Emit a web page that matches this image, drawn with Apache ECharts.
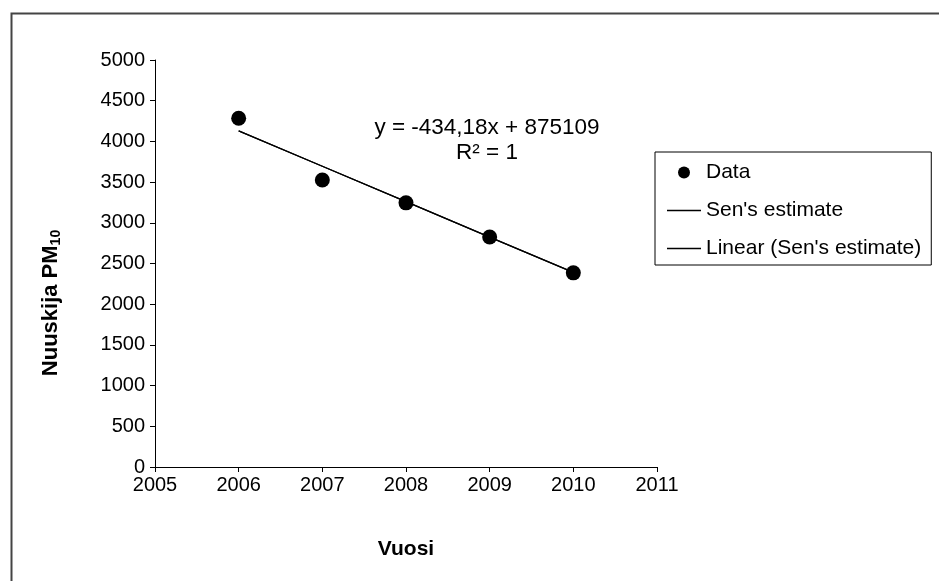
<!DOCTYPE html>
<html>
<head>
<meta charset="utf-8">
<script src="https://cdn.jsdelivr.net/npm/echarts@6/dist/echarts.min.js"></script>
<style>html,body{margin:0;padding:0;background:#fff;}#c{width:939px;height:581px;}</style>
</head>
<body>
<div id="c"></div>
<script>
const years = [2006, 2007, 2008, 2009, 2010];
const dataValues = [4285, 3525, 3245, 2825, 2385];
const senValues = [4130, 3695, 3260, 2825, 2390];
const trendValues = [4130, 3695, 3260, 2825, 2390];
const equationText = 'y = -434,18x + 875109';
const r2Text = 'R² = 1';
const xTitle = 'Vuosi';
const yTitleMain = 'Nuuskija PM';
const yTitleSub = '10';

const pair = (xs, ys) => xs.map((x, i) => [x, ys[i]]);
const font = '"Liberation Sans", Arial, sans-serif';
const lineIcon = 'path://M0,5.3 H34 V6.7 H0 Z M0,0 H0.001 V0.001 H0 Z M0,12 H0.001 V11.999 H0 Z';

const chart = echarts.init(document.getElementById('c'), null, {renderer: 'canvas'});
chart.setOption({
  backgroundColor: '#ffffff',
  animation: false,
  textStyle: {fontFamily: font, color: '#000'},
  grid: {left: 155, right: 282, top: 60, bottom: 114, containLabel: false},
  xAxis: {
    type: 'value', min: 2005, max: 2011, interval: 1,
    name: xTitle, nameLocation: 'middle', nameGap: 72,
    nameTextStyle: {fontFamily: font, fontSize: 21, fontWeight: 'bold', color: '#000'},
    axisLine: {lineStyle: {color: '#000', width: 1}},
    axisTick: {show: true, length: 5, lineStyle: {color: '#000'}},
    axisLabel: {fontFamily: font, fontSize: 20, color: '#000', margin: 8, formatter: v => String(v)},
    splitLine: {show: false}
  },
  yAxis: {
    type: 'value', min: 0, max: 5000, interval: 500,
    axisLine: {show: true, lineStyle: {color: '#000', width: 1}},
    axisTick: {show: true, length: 5, lineStyle: {color: '#000'}},
    axisLabel: {fontFamily: font, fontSize: 20, color: '#000', margin: 10, formatter: v => String(v)},
    splitLine: {show: false}
  },
  legend: {
    orient: 'vertical', left: 655, top: 152,
    padding: [10, 10, 6, 12],
    itemGap: 17, itemWidth: 34, itemHeight: 12,
    borderColor: '#000', borderWidth: 1,
    textStyle: {fontFamily: font, fontSize: 21, color: '#000'},
    data: [
      {name: 'Data', icon: 'circle'},
      {name: "Sen's estimate", icon: lineIcon},
      {name: "Linear (Sen's estimate)", icon: lineIcon}
    ]
  },
  series: [
    {
      name: "Sen's estimate", type: 'line', data: pair(years, senValues),
      symbol: 'none', showSymbol: false,
      lineStyle: {color: '#000', width: 1.3}, itemStyle: {color: '#000'}, z: 2
    },
    {
      name: "Linear (Sen's estimate)", type: 'line', data: pair(years, trendValues),
      symbol: 'none', showSymbol: false,
      lineStyle: {color: '#000', width: 1.3}, itemStyle: {color: '#000'}, z: 2
    },
    {
      name: 'Data', type: 'scatter', data: pair(years, dataValues),
      symbol: 'circle', symbolSize: 15,
      itemStyle: {color: '#000', opacity: 1}, z: 3
    }
  ],
  graphic: [
    {type: 'rect', left: 9, top: 11, shape: {width: 960, height: 600}, style: {fill: 'none', stroke: '#444', lineWidth: 2}, silent: true},
    {type: 'text', x: 487, y: 128, style: {text: equationText, font: '22.5px ' + font, fill: '#000', textAlign: 'center', textVerticalAlign: 'middle'}},
    {type: 'text', x: 487, y: 153, style: {text: r2Text, font: '22.5px ' + font, fill: '#000', textAlign: 'center', textVerticalAlign: 'middle'}},
    {type: 'text', x: 51, y: 303, rotation: Math.PI / 2,
      style: {
        text: '{a|' + yTitleMain + '}{b|' + yTitleSub + '}',
        textAlign: 'center', textVerticalAlign: 'middle',
        rich: {
          a: {fontFamily: font, fontSize: 22, fontWeight: 'bold', fill: '#000', color: '#000'},
          b: {fontFamily: font, fontSize: 14, fontWeight: 'bold', fill: '#000', color: '#000', padding: [10, 0, 0, 0]}
        }
      }
    }
  ]
});
</script>
</body>
</html>
